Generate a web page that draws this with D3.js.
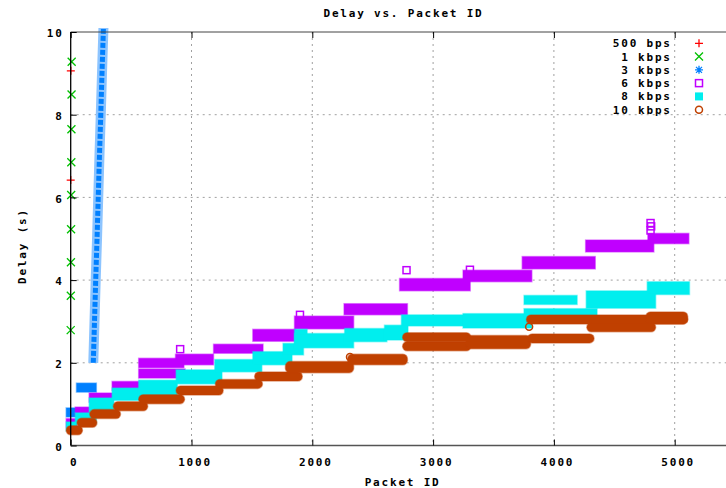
<!DOCTYPE html>
<html lang="en">
<head>
<meta charset="UTF-8">
<title>Delay vs. Packet ID</title>
<script src="https://cdn.jsdelivr.net/npm/d3@7"></script>
<style>
  body { margin: 0; background: #fff; }
  svg text { font-family: "DejaVu Sans Mono", "Liberation Mono", monospace; font-weight: bold; font-size: 11px; letter-spacing: 1.8px; fill: #000; }
</style>
</head>
<body>
<svg id="chart" width="726" height="488"></svg>
<script>
// values: packet id vs delay (s)
const xTicks = [0, 1000, 2000, 3000, 4000, 5000];
const yTicks = [0, 2, 4, 6, 8, 10];
const seriesNames = ['500 bps', '1 kbps', '3 kbps', '6 kbps', '8 kbps', '10 kbps'];

// single points [packet, delay]
const bps500 = [[0, 6.42], [1, 9.06]];
const kbps1 = [[0, 2.79], [1, 3.62], [2, 4.43], [3, 5.23], [4, 6.06], [5, 6.85], [6, 7.65], [7, 8.49], [8, 9.28]];

// dense runs of packets: [first packet, last packet, lowest delay, highest delay]
const kbps3Steps = [[0, 40, 0.8, 0.8], [85, 175, 1.4, 1.4]];
// the 3 kbps queue blows up, a steep run of packets
const kbps3Ramp = [[187, 2.0], [197, 3.0], [207, 4.0], [218, 5.0], [228, 6.0], [238, 7.0], [249, 8.0], [259, 9.0], [270, 10.0], [274, 10.4]];

const kbps6 = [
  [0, 12, 0.54, 0.54], [75, 120, 0.82, 0.82], [190, 315, 1.16, 1.16], [380, 535, 1.44, 1.44],
  [600, 910, 1.74, 1.74], [600, 900, 1.99, 2.0], [905, 1145, 2.06, 2.1], [1220, 1555, 2.34, 2.34],
  [1545, 1825, 2.63, 2.7], [1890, 2305, 2.93, 3.02], [2300, 2750, 3.27, 3.32], [2760, 3270, 3.85, 3.93],
  [3285, 3780, 4.07, 4.13], [3775, 4305, 4.38, 4.46], [4300, 4790, 4.79, 4.86], [4815, 5080, 4.99, 5.02]
];
const kbps6Outliers = [[906, 2.33], [1898, 3.16], [2780, 4.24], [3305, 4.25], [4800, 5.2], [4805, 5.3], [4800, 5.38]];

const kbps8 = [
  [0, 12, 0.46, 0.46], [75, 175, 0.64, 0.68], [190, 320, 0.92, 1.04], [380, 535, 1.2, 1.28],
  [600, 845, 1.29, 1.47], [910, 1215, 1.6, 1.72], [1230, 1545, 1.89, 1.97], [1545, 1795, 2.06, 2.16],
  [1795, 1890, 2.3, 2.36], [1890, 1920, 2.5, 2.7], [1890, 2305, 2.47, 2.6], [2305, 2580, 2.62, 2.72],
  [2635, 2755, 2.66, 2.8], [2775, 3270, 3.0, 3.05], [3285, 3780, 2.95, 3.08], [3790, 4320, 3.2, 3.2],
  [3790, 4155, 3.52, 3.52], [4305, 4805, 3.43, 3.63], [4810, 5085, 3.76, 3.85]
];

const kbps10 = [
  [0, 60, 0.37, 0.37], [90, 180, 0.55, 0.55], [195, 375, 0.76, 0.76], [390, 600, 0.95, 0.95],
  [600, 905, 1.12, 1.12], [910, 1225, 1.33, 1.33], [1235, 1550, 1.49, 1.49], [1560, 1880, 1.67, 1.67],
  [1815, 2305, 1.87, 1.92], [2330, 2750, 2.06, 2.1], [2785, 3275, 2.4, 2.4], [2785, 3275, 2.62, 2.62],
  [3310, 3770, 2.45, 2.55], [3820, 4295, 2.59, 2.59], [3810, 5070, 3.05, 3.05], [4800, 5070, 3.05, 3.12],
  [4310, 4805, 2.86, 2.86]
];
const kbps10Outliers = [[2312, 2.14], [3795, 2.87]];

const colors = ['#ff0000', '#00c000', '#0080ff', '#c000ff', '#00eeee', '#c04000'];

const svg = d3.select('#chart');
const plotLeft = 70.7, plotTop = 32, plotBottom = 445.5;

const x = d3.scaleLinear().domain([0, 5500]).range([plotLeft, plotLeft + 5500 * 0.1208]);
const y = d3.scaleLinear().domain([0, 10]).range([plotBottom, plotTop]);

svg.append('rect').attr('width', 726).attr('height', 488).attr('fill', '#fff');

svg.append('clipPath').attr('id', 'clip')
  .append('rect').attr('x', 0).attr('y', plotTop - 4).attr('width', 726).attr('height', plotBottom - plotTop + 10);

// grid
const grid = svg.append('g').attr('stroke', '#a0a0a0').attr('stroke-dasharray', '2,4').attr('stroke-width', 1);
grid.selectAll('.gx').data(xTicks.filter(d => d > 0)).join('line')
  .attr('x1', d => x(d)).attr('x2', d => x(d)).attr('y1', plotTop).attr('y2', plotBottom);
grid.selectAll('.gy').data(yTicks.filter(d => d > 0 && d < 10)).join('line')
  .attr('x1', plotLeft).attr('x2', 726).attr('y1', d => y(d)).attr('y2', d => y(d));

// marker shapes
const markers = {
  plus: 'M-4,0H4M0,-4V4',
  cross: 'M-4,-4L4,4M-4,4L4,-4',
  star: 'M-4,0H4M0,-4V4M-3,-3L3,3M-3,3L3,-3'
};

function pointMarker(g, kind, color) {
  if (kind === 'square') {
    g.append('rect').attr('x', -3.5).attr('y', -3.5).attr('width', 7).attr('height', 7)
      .attr('fill', 'none').attr('stroke', color).attr('stroke-width', 1.5);
  } else if (kind === 'box') {
    g.append('rect').attr('x', -4).attr('y', -4).attr('width', 8).attr('height', 8).attr('fill', color);
  } else if (kind === 'circle') {
    g.append('circle').attr('r', 3.5).attr('fill', 'none').attr('stroke', color).attr('stroke-width', 1.5);
  } else {
    g.append('path').attr('d', markers[kind]).attr('stroke', color).attr('stroke-width', 1.3).attr('fill', 'none');
  }
}

const plot = svg.append('g').attr('clip-path', 'url(#clip)');

function drawPoints(data, kind, color) {
  plot.append('g').selectAll('g').data(data).join('g')
    .attr('transform', d => `translate(${x(d[0])},${y(d[1])})`)
    .each(function () { pointMarker(d3.select(this), kind, color); });
}

function drawRuns(data, color, pad, rounded) {
  plot.append('g').selectAll('rect').data(data).join('rect')
    .attr('x', d => x(d[0]) - pad)
    .attr('width', d => x(d[1]) - x(d[0]) + 2 * pad)
    .attr('y', d => y(d[3]) - pad)
    .attr('height', d => y(d[2]) - y(d[3]) + 2 * pad)
    .attr('rx', rounded ? pad : 0)
    .attr('fill', color)
    .attr('stroke', color).attr('stroke-opacity', 0.45).attr('stroke-width', 1.5);
}

// 500 bps
drawPoints(bps500, 'plus', colors[0]);
// 1 kbps
drawPoints(kbps1, 'cross', colors[1]);
// 3 kbps
drawRuns(kbps3Steps, colors[2], 4.5, false);
const rampLine = d3.line().x(d => x(d[0])).y(d => y(d[1]));
plot.append('path').datum(kbps3Ramp).attr('d', rampLine)
  .attr('fill', 'none').attr('stroke', '#8cc4ff').attr('stroke-width', 10);
plot.append('path').datum(kbps3Ramp).attr('d', rampLine)
  .attr('fill', 'none').attr('stroke', colors[2]).attr('stroke-width', 5)
  .attr('stroke-dasharray', '5,2');
// 6 kbps
drawRuns(kbps6, colors[3], 4.5, false);
drawPoints(kbps6Outliers, 'square', colors[3]);
// 8 kbps
drawRuns(kbps8, colors[4], 4.5, false);
// 10 kbps
drawRuns(kbps10, colors[5], 4.5, true);
drawPoints(kbps10Outliers, 'circle', colors[5]);

// border
svg.append('line').attr('x1', plotLeft).attr('x2', 726).attr('y1', plotTop).attr('y2', plotTop).attr('stroke', '#444');
svg.append('line').attr('x1', plotLeft).attr('x2', 726).attr('y1', plotBottom).attr('y2', plotBottom).attr('stroke', '#555').attr('stroke-width', 1.5);
svg.append('line').attr('x1', plotLeft).attr('x2', plotLeft).attr('y1', plotTop).attr('y2', plotBottom).attr('stroke', '#000').attr('stroke-width', 1.3);

// axes
const yAxis = svg.append('g').attr('transform', `translate(${plotLeft},0)`)
  .call(d3.axisLeft(y).tickValues(yTicks).tickSize(-6).tickPadding(7));
const xAxis = svg.append('g').attr('transform', `translate(0,${plotBottom})`)
  .call(d3.axisBottom(x).tickValues(xTicks).tickSize(-6).tickPadding(12.7).tickFormat(d3.format('d')));
const xTop = svg.append('g').attr('transform', `translate(0,${plotTop})`)
  .call(d3.axisTop(x).tickValues(xTicks).tickSize(-6).tickFormat(''));
[yAxis, xAxis, xTop].forEach(a => {
  a.select('.domain').remove();
  a.attr('font-family', null).attr('font-size', null);
  a.selectAll('line').attr('stroke', '#000');
});
yAxis.selectAll('text').attr('dy', '0.43em');
xAxis.selectAll('text').attr('dx', 3);

// titles
svg.append('text').attr('x', 403.5).attr('y', 16.5).attr('text-anchor', 'middle').text('Delay vs. Packet ID');
svg.append('text').attr('x', 402.6).attr('y', 486).attr('text-anchor', 'middle').text('Packet ID');
svg.append('text').attr('transform', 'translate(26,246) rotate(-90)').attr('text-anchor', 'middle').text('Delay (s)');

// legend
const legendKinds = ['plus', 'cross', 'star', 'square', 'box', 'circle'];
const legend = svg.append('g').selectAll('g').data(seriesNames).join('g')
  .attr('transform', (d, i) => `translate(0,${43.3 + i * 13.28})`);
legend.append('text').attr('x', 671.8).attr('y', 4).attr('text-anchor', 'end').text(d => d);
legend.append('g').attr('transform', 'translate(699,0)')
  .each(function (d, i) { pointMarker(d3.select(this), legendKinds[i], colors[i]); });
</script>
</body>
</html>
